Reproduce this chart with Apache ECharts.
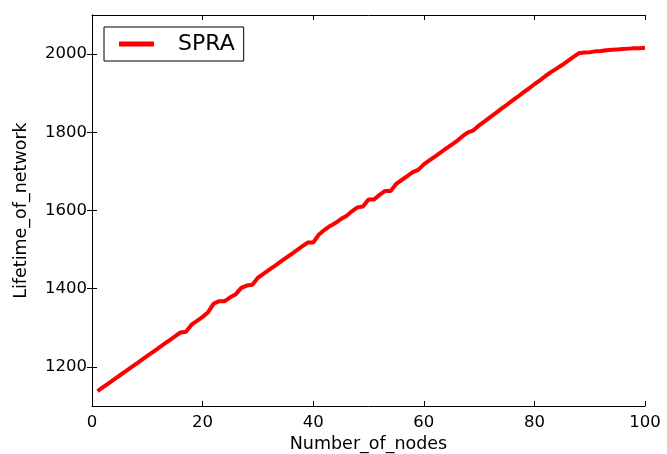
<!DOCTYPE html>
<html>
<head>
<meta charset="utf-8">
<script src="https://cdn.jsdelivr.net/npm/echarts@6/dist/echarts.min.js"></script>
<style>
  html, body { margin: 0; padding: 0; background: #fff; }
  #chart { width: 667px; height: 454px; }
</style>
</head>
<body>
<div id="chart"></div>
<script>
let nodes = [];
for (let i = 1; i <= 100; i++) nodes.push(i);
let spra = [
  1138, 1148, 1158, 1168, 1178, 1188, 1198, 1208, 1218, 1228,
  1238, 1248, 1258, 1268, 1278, 1288, 1290, 1308, 1318, 1328,
  1340, 1362, 1368, 1368, 1378, 1386, 1402, 1408, 1410, 1428,
  1438, 1448, 1458, 1468, 1478, 1488, 1498, 1508, 1518, 1518,
  1538, 1550, 1560, 1568, 1578, 1586, 1598, 1608, 1610, 1628,
  1628, 1640, 1650, 1650, 1668, 1678, 1688, 1698, 1704, 1718,
  1728, 1738, 1748, 1758, 1768, 1778, 1790, 1800, 1805, 1818,
  1828, 1839, 1849, 1860, 1870, 1881, 1891, 1902, 1912, 1923,
  1933, 1944, 1954, 1963, 1972, 1982, 1992, 2002, 2004, 2005,
  2007, 2008, 2010, 2011, 2012, 2013, 2014, 2015, 2015, 2016
];
let yTicks = [1200, 1400, 1600, 1800, 2000];
let seriesName = 'SPRA';
let xName = 'Number_of_nodes';
let yName = 'Lifetime_of_network';

let fnt = 'DejaVu Sans';
let chart = echarts.init(document.getElementById('chart'));

let line = { show: true, lineStyle: { color: '#000', width: 1 } };
let tick = { show: true, inside: true, length: 5, lineStyle: { color: '#000' } };

chart.setOption({
  animation: false,
  backgroundColor: '#fff',
  grid: { left: 92, right: 22, top: 15, bottom: 48, outerBoundsMode: 'none', containLabel: false },
  legend: {
    data: [seriesName],
    left: 104,
    top: 27,
    icon: 'rect',
    itemWidth: 35,
    itemHeight: 5,
    padding: [6, 9, 6, 15],
    borderColor: '#000',
    borderWidth: 1,
    borderRadius: 0,
    textStyle: { fontFamily: fnt, fontSize: 22, color: '#000', padding: [0, 0, 0, 19] }
  },
  xAxis: [
    {
      type: 'value', min: 0, max: 100, interval: 20,
      name: xName, nameLocation: 'middle', nameGap: 27,
      nameTextStyle: { fontFamily: fnt, fontSize: 17.5, color: '#000' },
      axisLine: line, axisTick: tick, splitLine: { show: false },
      axisLabel: { fontFamily: fnt, fontSize: 16.5, color: '#000', margin: 8 }
    },
    {
      type: 'value', min: 0, max: 100, interval: 20, position: 'top',
      axisLine: line, axisTick: tick, splitLine: { show: false },
      axisLabel: { show: false }
    }
  ],
  yAxis: [
    {
      type: 'value', min: 1100, max: 2100,
      name: yName, nameLocation: 'middle', nameGap: 62,
      nameTextStyle: { fontFamily: fnt, fontSize: 17.5, color: '#000' },
      axisLine: line, splitLine: { show: false },
      axisLabel: {
        fontFamily: fnt, fontSize: 16.5, color: '#000', margin: 5,
        customValues: yTicks,
        formatter: v => String(v)
      },
      axisTick: Object.assign({ customValues: yTicks }, tick)
    },
    {
      type: 'value', min: 1100, max: 2100, position: 'right',
      axisLine: line, splitLine: { show: false },
      axisLabel: { show: false },
      axisTick: Object.assign({ customValues: yTicks }, tick)
    }
  ],
  series: [{
    name: seriesName,
    type: 'line',
    data: nodes.map((n, i) => [n, spra[i]]),
    showSymbol: false,
    symbol: 'none',
    lineStyle: { color: '#ff0000', width: 4 },
    itemStyle: { color: '#ff0000' }
  }]
});
</script>
</body>
</html>
